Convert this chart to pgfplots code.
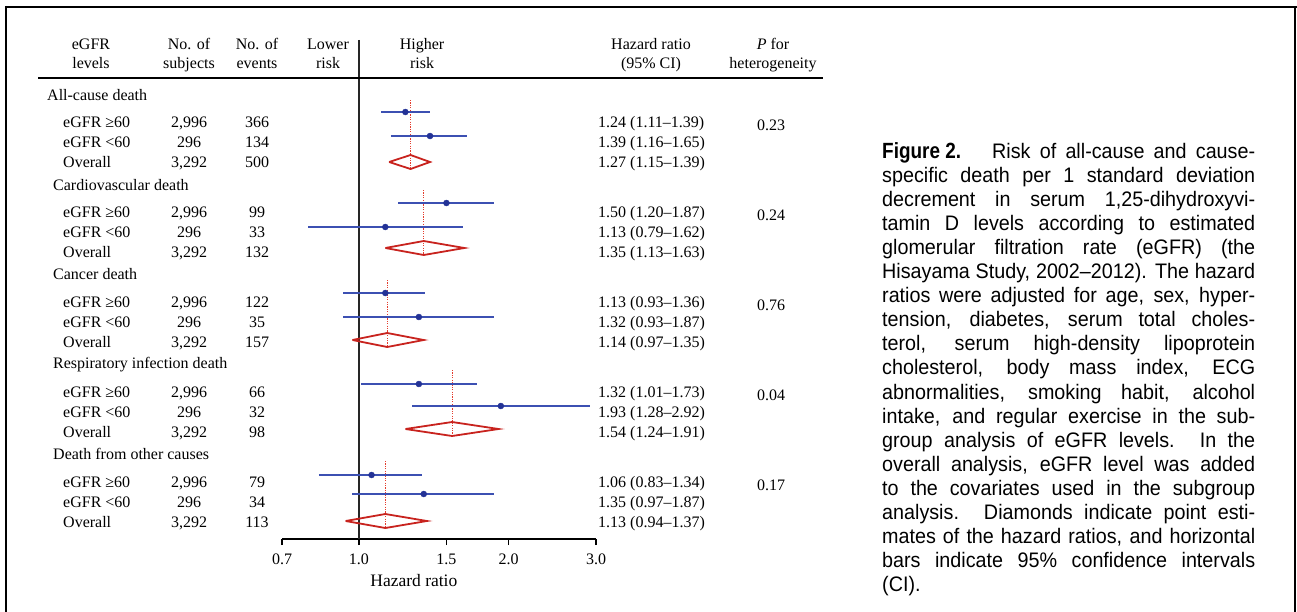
\documentclass[border=0pt]{standalone}
\usepackage{fontspec}
\setmainfont{Liberation Serif}
\newfontfamily\capfont{Liberation Sans}[FakeStretch=0.94]
\newfontfamily\figfont{Liberation Sans}[FakeStretch=0.86]
\usepackage{pgfplots}
\pgfplotsset{compat=1.18}
\definecolor{ciblue}{RGB}{60,80,178}
\definecolor{dotblue}{RGB}{35,50,150}
\definecolor{diamred}{RGB}{200,35,30}
\definecolor{refred}{RGB}{228,60,45}
\begin{document}
\begin{tikzpicture}
\path[use as bounding box] (0,0) rectangle (1297bp,-612bp);
\begin{axis}[
  at={(282bp,-539bp)}, anchor=south west,
  scale only axis, width=314bp, height=499bp,
  xmode=log, xmin=0.7, xmax=3, ymin=-539, ymax=-40,
  axis x line*=bottom, axis y line=none,
  xtick={0.7,1,1.5,2,3}, xticklabels={0.7,1.0,1.5,2.0,3.0},
  minor xtick={},
  tick align=outside, major tick length=6bp,
  tick style={black, line width=1.1bp},
  axis line style={black, line width=1.1bp},
  xticklabel style={font=\fontsize{16bp}{19bp}\selectfont, inner sep=2bp, yshift=-7bp},
  xlabel={Hazard ratio},
  xlabel style={font=\fontsize{17.5bp}{20bp}\selectfont, at={(axis description cs:0.42,0)}, anchor=base, yshift=-47bp},
  clip=false,
  unbounded coords=jump,
  /pgf/number format/assume math mode=true,
]
% line of no effect (HR = 1)
\addplot[black!85, line width=1.1bp] coordinates {(1,-40) (1,-539)};
% dotted lines at the overall estimates
\addplot[refred, line width=0.9bp, dash pattern=on 1.2bp off 1.2bp] coordinates {
(1.27,-100) (1.27,-169) (nan,nan)
(1.35,-190) (1.35,-255) (nan,nan)
(1.14,-280) (1.14,-347) (nan,nan)
(1.54,-370) (1.54,-436) (nan,nan)
(1.13,-461) (1.13,-528)};
% 95% CI of the subgroups
\addplot[ciblue, line width=2bp] coordinates {
(1.11,-112) (1.39,-112) (nan,nan)
(1.16,-136) (1.65,-136) (nan,nan)
(1.20,-203) (1.87,-203) (nan,nan)
(0.79,-227) (1.62,-227) (nan,nan)
(0.93,-293) (1.36,-293) (nan,nan)
(0.93,-317) (1.87,-317) (nan,nan)
(1.01,-384) (1.73,-384) (nan,nan)
(1.28,-406) (2.92,-406) (nan,nan)
(0.83,-475) (1.34,-475) (nan,nan)
(0.97,-494) (1.87,-494)};
% point estimates of the subgroups
\addplot[only marks, mark=*, mark size=3bp, dotblue] coordinates {
(1.24,-112) (1.39,-136) (1.50,-203) (1.13,-227) (1.13,-293)
(1.32,-317) (1.32,-384) (1.93,-406) (1.06,-475) (1.35,-494)};
% overall diamonds
\addplot[diamred, line width=1.8bp, line join=miter] coordinates {
(1.15,-162) (1.27,-155) (1.39,-162) (1.27,-169) (1.15,-162) (nan,nan)
(1.13,-248) (1.35,-241) (1.63,-248) (1.35,-255) (1.13,-248) (nan,nan)
(0.97,-340) (1.14,-333) (1.35,-340) (1.14,-347) (0.97,-340) (nan,nan)
(1.24,-429) (1.54,-422) (1.91,-429) (1.54,-436) (1.24,-429) (nan,nan)
(0.94,-521) (1.13,-514) (1.37,-521) (1.13,-528) (0.94,-521)};
\end{axis}
\begin{scope}[x=1bp, y=-1bp, tx/.style={font=\fontsize{16bp}{19bp}\selectfont, inner sep=0, anchor=base}, tl/.style={tx, anchor=base west}]
% frame
\draw[line width=2.5bp] (5,7) -- (1297,7);
\draw[line width=2.5bp] (6,5.8) -- (6,612);
\draw[line width=1.5bp] (1295,7) -- (1295,612);
% header
\draw[line width=1.1bp] (38,78) -- (823,78);
\node[tx] at (91,49.5) {eGFR};   \node[tx] at (91,68.5) {levels};
\node[tx] at (189,49.5) {No. of}; \node[tx] at (189,68.5) {subjects};
\node[tx] at (257,49.5) {No. of}; \node[tx] at (257,68.5) {events};
\node[tx] at (328,49.5) {Lower};  \node[tx] at (328,68.5) {risk};
\node[tx] at (422,49.5) {Higher}; \node[tx] at (422,68.5) {risk};
\node[tx] at (651,49.5) {Hazard ratio}; \node[tx] at (651,68.5) {(95\% CI)};
\node[tx] at (773,49.5) {\textit{P} for}; \node[tx] at (773,68.5) {heterogeneity};
% groups
\node[tl] at (47,100.5) {All-cause death};
\node[tl] at (53,190.5) {Cardiovascular death};
\node[tl] at (53,279.5) {Cancer death};
\node[tl] at (53,368.5) {Respiratory infection death};
\node[tl] at (53,459.5) {Death from other causes};
% rows
\foreach \g/\ea/\eb/\ec/\ha/\hb/\hc/\p in {
  0/366/134/500/{1.24 (1.11–1.39)}/{1.39 (1.16–1.65)}/{1.27 (1.15–1.39)}/0.23,
  90/99/33/132/{1.50 (1.20–1.87)}/{1.13 (0.79–1.62)}/{1.35 (1.13–1.63)}/0.24,
  180/122/35/157/{1.13 (0.93–1.36)}/{1.32 (0.93–1.87)}/{1.14 (0.97–1.35)}/0.76,
  270/66/32/98/{1.32 (1.01–1.73)}/{1.93 (1.28–2.92)}/{1.54 (1.24–1.91)}/0.04,
  360/79/34/113/{1.06 (0.83–1.34)}/{1.35 (0.97–1.87)}/{1.13 (0.94–1.37)}/0.17}{
  \node[tl] at (63,127.5+\g) {eGFR ≥60};
  \node[tl] at (63,147.5+\g) {eGFR <60};
  \node[tl] at (63,167.5+\g) {Overall};
  \node[tx] at (189,127.5+\g) {2,996};
  \node[tx] at (189,147.5+\g) {296};
  \node[tx] at (189,167.5+\g) {3,292};
  \node[tx] at (257,127.5+\g) {\ea};
  \node[tx] at (257,147.5+\g) {\eb};
  \node[tx] at (257,167.5+\g) {\ec};
  \node[tl] at (598,127.5+\g) {\ha};
  \node[tl] at (598,147.5+\g) {\hb};
  \node[tl] at (598,167.5+\g) {\hc};
  \node[tx] at (771,130.5+\g) {\p};
}
% caption
\node[anchor=base west, inner sep=0] at (882,158) {\parbox[t]{373bp}{\capfont\fontsize{21bp}{24.1bp}\selectfont
\makebox[110bp][l]{\figfont\fontsize{22bp}{24bp}\selectfont\bfseries Figure 2.}\makebox[263bp][s]{Risk of all-cause and cause-}\\
\makebox[373bp][s]{specific death per 1 standard deviation}\\
\makebox[373bp][s]{decrement in serum 1,25-dihydroxyvi-}\\
\makebox[373bp][s]{tamin D levels according to estimated}\\
\makebox[373bp][s]{glomerular filtration rate (eGFR) (the}\\
\makebox[373bp][s]{Hisayama Study, 2002–2012). The hazard}\\
\makebox[373bp][s]{ratios were adjusted for age, sex, hyper-}\\
\makebox[373bp][s]{tension, diabetes, serum total choles-}\\
\makebox[373bp][s]{terol, serum high-density lipoprotein}\\
\makebox[373bp][s]{cholesterol, body mass index, ECG}\\
\makebox[373bp][s]{abnormalities, smoking habit, alcohol}\\
\makebox[373bp][s]{intake, and regular exercise in the sub-}\\
\makebox[373bp][s]{group analysis of eGFR levels. In the}\\
\makebox[373bp][s]{overall analysis, eGFR level was added}\\
\makebox[373bp][s]{to the covariates used in the subgroup}\\
\makebox[373bp][s]{analysis. Diamonds indicate point esti-}\\
\makebox[373bp][s]{mates of the hazard ratios, and horizontal}\\
\makebox[373bp][s]{bars indicate 95\% confidence intervals}\\
(CI).}};
\end{scope}
\end{tikzpicture}
\end{document}
